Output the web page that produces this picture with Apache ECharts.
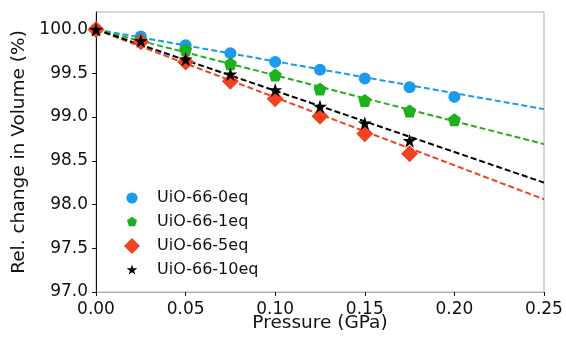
<!DOCTYPE html>
<html>
<head>
<meta charset="utf-8">
<script src="https://cdn.jsdelivr.net/npm/echarts@6/dist/echarts.min.js"></script>
<style>
  html, body { margin: 0; padding: 0; background: #fff; }
  #chart { width: 566px; height: 338px; }
</style>
</head>
<body>
<div id="chart"></div>
<script>
// pressure steps (GPa)
const pressure = [0, 0.025, 0.05, 0.075, 0.1, 0.125, 0.15, 0.175, 0.2];

// measured relative volume (%)
const eq0 = [100, 99.92, 99.82, 99.73, 99.63, 99.54, 99.44, 99.34, 99.23];
const eq1 = [100, 99.88, 99.77, 99.61, 99.48, 99.32, 99.19, 99.07, 98.97];
const eq5 = [100, 99.86, 99.63, 99.41, 99.21, 99.01, 98.81, 98.58];
const eq10 = [100, 99.87, 99.66, 99.49, 99.31, 99.12, 98.93, 98.73];

// dashed linear fits: value at 0 and at 0.25 GPa
const fitX = [0, 0.25];
const fit0 = [100, 99.09];
const fit1 = [100, 98.69];
const fit5 = [100, 98.06];
const fit10 = [100, 98.25];

const yTicks = [97.0, 97.5, 98.0, 98.5, 99.0, 99.5, 100.0];
const names = ['UiO-66-0eq', 'UiO-66-1eq', 'UiO-66-5eq', 'UiO-66-10eq'];
const colors = ['#1a9bef', '#1fb01f', '#f0421f', '#000000'];

const pentagon = 'M0,-1L0.951,-0.309L0.588,0.809L-0.588,0.809L-0.951,-0.309Z';
const star = 'M0,-1L0.225,-0.309L0.951,-0.309L0.363,0.118L0.588,0.809L0,0.382L-0.588,0.809L-0.363,0.118L-0.951,-0.309L-0.225,-0.309Z';
const symbols = ['circle', 'path://' + pentagon, 'diamond', 'path://' + star];
const sizes = [12, 13, 17, 14];

// legend icons are drawn in one box size, so pad the smaller shapes
function padded(path, k) {
    const scaled = path.replace(/-?\d*\.?\d+/g, function (n) { return (parseFloat(n) * k).toFixed(3); });
    return 'path://M-1,-1M1,1' + scaled;
}
const circlePath = 'M1,0A1,1,0,1,1,-1,0A1,1,0,1,1,1,0Z';
const legendIcons = [
    padded(circlePath, 0.7),
    padded(pentagon, 0.66),
    'diamond',
    padded(star, 0.7)
];

function pairs(xs, ys) {
    return ys.map(function (v, i) { return [xs[i], v]; });
}

const measured = [eq0, eq1, eq5, eq10];
const fits = [fit0, fit1, fit5, fit10];
const font = 'DejaVu Sans';

let series = [];
for (let i = 0; i < 4; i++) {
    series.push({
        name: 'fit' + i,
        type: 'line',
        data: pairs(fitX, fits[i]),
        showSymbol: false,
        silent: true,
        z: 1,
        lineStyle: { color: colors[i], width: 2, type: [6, 3] }
    });
}
for (let i = 0; i < 4; i++) {
    series.push({
        name: names[i],
        type: 'scatter',
        data: pairs(pressure, measured[i]),
        symbol: symbols[i],
        symbolSize: sizes[i],
        clip: false,
        z: 3 + i,
        itemStyle: { color: colors[i], opacity: 1 }
    });
}

const chart = echarts.init(document.getElementById('chart'));
chart.setOption({
    backgroundColor: '#fff',
    animation: false,
    grid: {
        left: 96, right: 22, top: 12, bottom: 46,
        outerBoundsMode: 'none',
        show: true, borderColor: '#b0b0b0', borderWidth: 1
    },
    legend: {
        data: names.map(function (n, i) {
            return { name: n, icon: legendIcons[i] };
        }),
        orient: 'vertical',
        left: 119,
        top: 185,
        itemWidth: 16,
        itemHeight: 16,
        itemGap: 8,
        textStyle: { fontFamily: font, fontSize: 16, color: '#111', padding: [0, 0, 0, 12] }
    },
    xAxis: {
        type: 'value',
        min: 0,
        max: 0.25,
        interval: 0.05,
        name: 'Pressure (GPa)',
        nameLocation: 'middle',
        nameGap: 22,
        nameMoveOverlap: false,
        nameTextStyle: { fontFamily: font, fontSize: 18.5, color: '#111' },
        splitLine: { show: false },
        axisLine: { lineStyle: { color: '#b0b0b0', width: 1 } },
        axisTick: { length: 4, lineStyle: { color: '#111' } },
        axisLabel: {
            fontFamily: font, fontSize: 17, color: '#111', margin: 9,
            formatter: function (v) { return v.toFixed(2); }
        }
    },
    yAxis: {
        type: 'value',
        min: 97,
        max: 100.2,
        name: 'Rel. change in Volume (%)',
        nameLocation: 'middle',
        nameGap: 67,
        nameMoveOverlap: false,
        nameTextStyle: { fontFamily: font, fontSize: 18.5, color: '#111' },
        splitLine: { show: false },
        axisLine: { show: true, lineStyle: { color: '#111', width: 1 } },
        axisTick: { show: true, length: 4, customValues: yTicks, lineStyle: { color: '#111' } },
        axisLabel: {
            fontFamily: font, fontSize: 17, color: '#111', margin: 8,
            customValues: yTicks,
            formatter: function (v) { return v.toFixed(1); }
        }
    },
    series: series
});
</script>
</body>
</html>
